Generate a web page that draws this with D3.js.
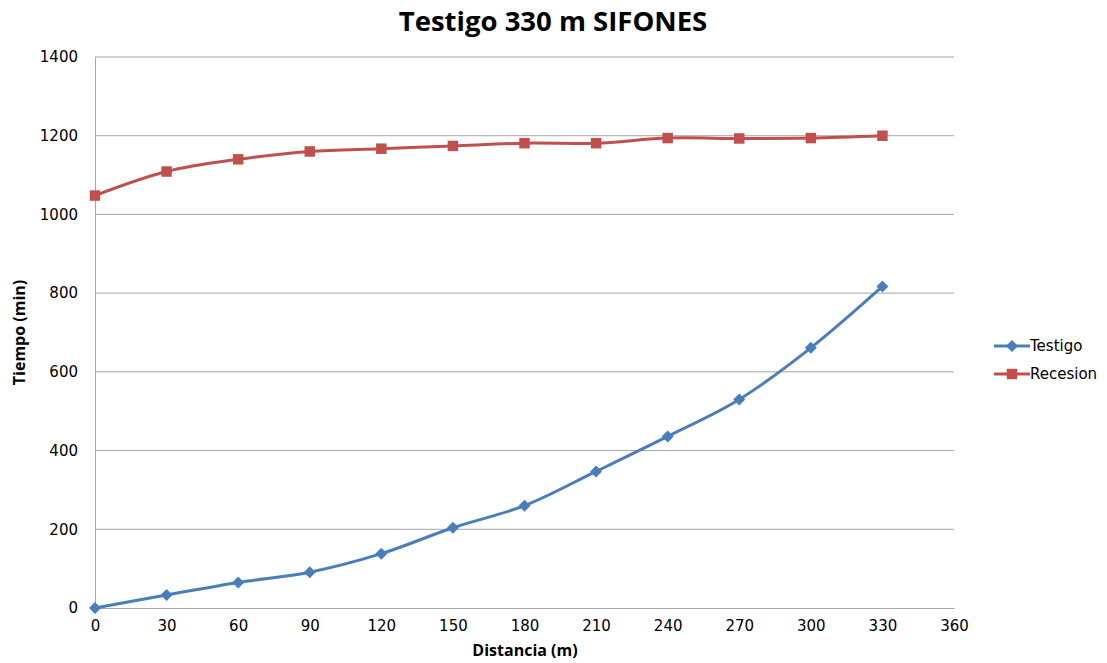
<!DOCTYPE html>
<html>
<head>
<meta charset="utf-8">
<script src="https://cdn.jsdelivr.net/npm/d3@7"></script>
<style>
    body { margin: 0; background: #fff; }
    svg { font-family: 'Open Sans', 'DejaVu Sans', sans-serif; }
    .tick text { font-size: 15px; fill: #000; }
    .axis-title { font-size: 16px; font-weight: bold; }
</style>
</head>
<body>
<svg id="chart"></svg>
<script>
// data
const distancia = [0, 30, 60, 90, 120, 150, 180, 210, 240, 270, 300, 330];
const testigo = [0, 33, 65, 91, 138, 204, 260, 347, 436, 530, 661, 817];
const recesion = [1048, 1109, 1140, 1160, 1167, 1174, 1181, 1181, 1194, 1193, 1194, 1200];
const xTicks = [0, 30, 60, 90, 120, 150, 180, 210, 240, 270, 300, 330, 360];
const yTicks = [0, 200, 400, 600, 800, 1000, 1200, 1400];

// diamond = square turned 45 degrees
const series = [
    { name: 'Testigo', values: testigo, color: '#4a7ebb', symbol: d3.symbolSquare, size: 72, rotate: 45 },
    { name: 'Recesion', values: recesion, color: '#c0504d', symbol: d3.symbolSquare, size: 110, rotate: 0 }
];

const width = 1107, height = 663;
const margin = { top: 57, right: 153, bottom: 55, left: 95 };
const innerW = width - margin.left - margin.right;
const innerH = height - margin.top - margin.bottom;

const svg = d3.select('#chart')
    .attr('width', width)
    .attr('height', height);

const bounds = svg.append('g')
    .attr('transform', `translate(${margin.left},${margin.top})`);

// scales
const xScale = d3.scaleLinear().domain([0, 360]).range([0, innerW]);
const yScale = d3.scaleLinear().domain([0, 1400]).range([innerH, 0]);

// gridlines
bounds.append('g')
    .selectAll('line')
    .data(yTicks.filter(d => d > 0))
    .join('line')
    .attr('x1', 0)
    .attr('x2', innerW)
    .attr('y1', d => yScale(d))
    .attr('y2', d => yScale(d))
    .attr('stroke', '#a6a6a6')
    .attr('stroke-width', 1);

// axes
const xAxisG = bounds.append('g')
    .attr('transform', `translate(0,${innerH})`)
    .call(d3.axisBottom(xScale).tickValues(xTicks).tickSize(0).tickPadding(12));

const yAxisG = bounds.append('g')
    .call(d3.axisLeft(yScale).tickValues(yTicks).tickFormat(d3.format('d')).tickSize(0).tickPadding(17));

[xAxisG, yAxisG].forEach(g => {
    g.select('.domain').attr('stroke', '#a6a6a6');
    g.selectAll('.tick text').attr('font-family', "'DejaVu Sans', sans-serif");
});

// lines
const line = d3.line()
    .x((d, i) => xScale(distancia[i]))
    .y(d => yScale(d))
    .curve(d3.curveCatmullRom.alpha(0.5));

series.forEach(s => {
    bounds.append('path')
        .datum(s.values)
        .attr('fill', 'none')
        .attr('stroke', s.color)
        .attr('stroke-width', 3)
        .attr('d', line);

    bounds.append('g')
        .selectAll('path')
        .data(s.values)
        .join('path')
        .attr('transform', (d, i) => `translate(${xScale(distancia[i])},${yScale(d)}) rotate(${s.rotate})`)
        .attr('d', d3.symbol().type(s.symbol).size(s.size))
        .attr('fill', s.color);
});

// title and axis titles
svg.append('text')
    .attr('x', 553)
    .attr('y', 31)
    .attr('text-anchor', 'middle')
    .attr('font-size', 27.5)
    .attr('font-weight', 'bold')
    .text('Testigo 330 m SIFONES');

svg.append('text')
    .attr('class', 'axis-title')
    .attr('x', 525)
    .attr('y', 656)
    .attr('text-anchor', 'middle')
    .text('Distancia (m)');

svg.append('text')
    .attr('class', 'axis-title')
    .attr('transform', `translate(25,${margin.top + innerH / 2}) rotate(-90)`)
    .attr('text-anchor', 'middle')
    .text('Tiempo (min)');

// legend
const legend = svg.append('g')
    .attr('transform', 'translate(994,346)');

const legendItem = legend.selectAll('g')
    .data(series)
    .join('g')
    .attr('transform', (d, i) => `translate(0,${i * 28})`);

legendItem.append('line')
    .attr('x1', 0)
    .attr('x2', 36)
    .attr('stroke', d => d.color)
    .attr('stroke-width', 3);

legendItem.append('path')
    .attr('transform', d => `translate(18,0) rotate(${d.rotate})`)
    .attr('d', d => d3.symbol().type(d.symbol).size(d.size)())
    .attr('fill', d => d.color);

legendItem.append('text')
    .attr('x', 36)
    .attr('dy', '0.35em')
    .attr('font-size', 15)
    .attr('font-family', "'DejaVu Sans', sans-serif")
    .text(d => d.name);
</script>
</body>
</html>
